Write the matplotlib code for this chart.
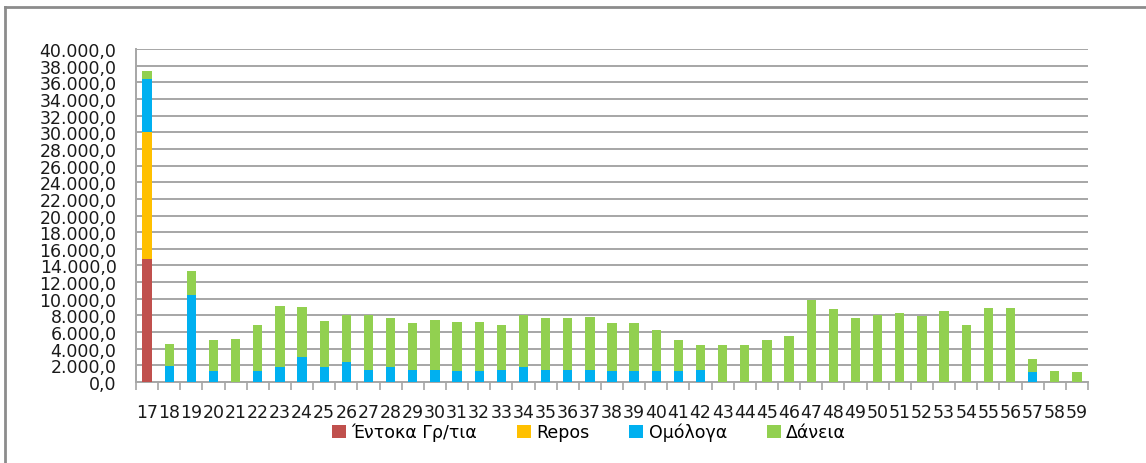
import numpy as np
import matplotlib.pyplot as plt
from matplotlib.lines import Line2D
from matplotlib.ticker import FuncFormatter

years = [str(y) for y in range(17, 60)]

# values per year (εκατ. ευρώ)
entoka = [14800] + [0] * 42
repos = [15200] + [0] * 42
omologa = [6450, 1920, 10400, 1280, 0, 1280, 1760, 3000, 1800, 2360,
           1480, 1800, 1480, 1480, 1320, 1320, 1440, 1800, 1480, 1480,
           1480, 1320, 1320, 1320, 1320, 1480, 0, 0, 0, 0,
           0, 0, 0, 0, 0, 0, 0, 0, 0, 0,
           1200, 0, 0]
daneia = [900, 2600, 2900, 3720, 5160, 5560, 7400, 5960, 5520, 5680,
          6560, 5840, 5560, 6000, 5880, 5880, 5400, 6240, 6160, 6160,
          6280, 5720, 5720, 4920, 3680, 2920, 4400, 4400, 5000, 5480,
          9800, 8720, 7640, 8080, 8280, 7960, 8560, 6880, 8880, 8880,
          1520, 1320, 1200]

series_names = ["Έντοκα Γρ/τια", "Repos", "Ομόλογα", "Δάνεια"]
colors = ["#C0504D", "#FFC000", "#00B0F0", "#92D050"]

plt.rcParams['font.family'] = ['DejaVu Sans']

fig = plt.figure(figsize=(11.46, 4.64), dpi=100)
ax = fig.add_axes([136/1146, 1 - 383/464, 952/1146, 333/464])

x = np.arange(len(years))
bottom = np.zeros(len(years))
for vals, name, col in zip([entoka, repos, omologa, daneia], series_names, colors):
    vals = np.array(vals, dtype=float)
    ax.bar(x, vals, width=0.42, bottom=bottom, color=col, label=name, zorder=3)
    bottom += vals

ax.set_xlim(-0.5, len(years) - 0.5)
ax.set_ylim(0, 40000)
ax.set_yticks(np.arange(0, 40001, 2000))
ax.yaxis.set_major_formatter(FuncFormatter(
    lambda v, p: f"{v:,.1f}".replace(",", "X").replace(".", ",").replace("X", ".")))
ax.grid(axis="y", color="#a6a6a6", linewidth=1.4, zorder=0)
ax.tick_params(axis="y", length=0, labelsize=12.5, pad=14, colors="#1a1a1a")

ax.set_xticks(x)
ax.set_xticklabels(years)
ax.set_xticks(np.arange(-0.5, len(years)), minor=True)
ax.tick_params(axis="x", which="major", length=0, labelsize=12.5, pad=15, colors="#1a1a1a")
ax.tick_params(axis="x", which="minor", length=6, width=1.2, color="#a6a6a6")

for s in ["top", "right"]:
    ax.spines[s].set_visible(False)
for s in ["left", "bottom"]:
    ax.spines[s].set_color("#a6a6a6")
    ax.spines[s].set_linewidth(1.4)

fig.legend(loc="center", bbox_to_anchor=(589/1146, 1 - 433/464), ncol=4,
           frameon=False, fontsize=12.5, handlelength=0.8, handleheight=0.8,
           handletextpad=0.3, columnspacing=2.3, borderaxespad=0)

# outer chart frame (top and left edges only are visible)
fy = 1 - 8/464
fx = 5/1146
fig.add_artist(Line2D([fx, 1.01], [fy, fy], transform=fig.transFigure,
                      color="#8c8c8c", linewidth=2))
fig.add_artist(Line2D([fx, fx], [-0.01, fy], transform=fig.transFigure,
                      color="#8c8c8c", linewidth=2))

plt.savefig("out.png", dpi=100)
